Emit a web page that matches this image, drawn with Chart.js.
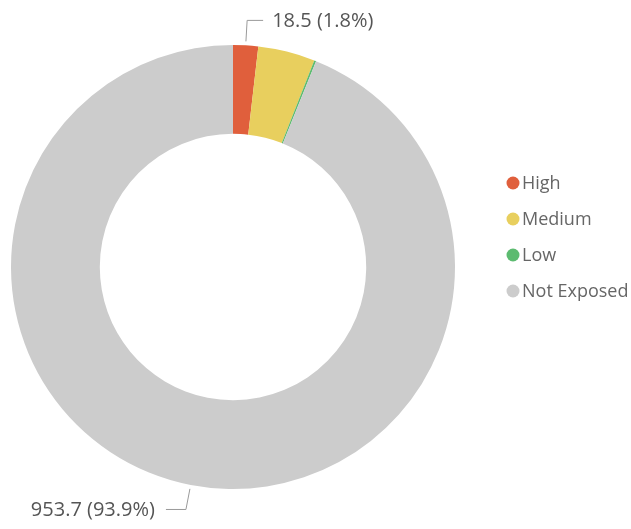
<!DOCTYPE html>
<html>
<head>
<meta charset="utf-8">
<script src="https://cdn.jsdelivr.net/npm/chart.js@4/dist/chart.umd.min.js"></script>
<style>
html,body{margin:0;padding:0;background:#fff;}
canvas{display:block;}
</style>
</head>
<body>
<canvas id="c" width="631" height="529"></canvas>
<script>
const categories = ["High", "Medium", "Low", "Not Exposed"];
const exposureValues = [18.5, 42.1, 1.4, 953.7];
const sliceColors = ["#E05F3C", "#E8CF5E", "#5CBB70", "#CCCCCC"];
const labelledSlices = [0, 3];

const FONT = "'Open Sans', 'Noto Sans', sans-serif";

const calloutPlugin = {
  id: 'callouts',
  afterDatasetsDraw(chart) {
    const ctx = chart.ctx;
    const meta = chart.getDatasetMeta(0);
    const data = chart.data.datasets[0].data;
    const total = data.reduce((a, b) => a + b, 0);
    ctx.save();
    labelledSlices.forEach(i => {
      const arc = meta.data[i];
      const mid = (arc.startAngle + arc.endAngle) / 2;
      const r0 = arc.outerRadius + 4;
      const r1 = arc.outerRadius + 25;
      const x0 = arc.x + Math.cos(mid) * r0, y0 = arc.y + Math.sin(mid) * r0;
      const x1 = arc.x + Math.cos(mid) * r1, y1 = arc.y + Math.sin(mid) * r1;
      const right = Math.cos(mid) >= 0;
      const x2 = x1 + (right ? 16 : -20);
      ctx.strokeStyle = '#9a9a9a';
      ctx.lineWidth = 1;
      ctx.beginPath();
      ctx.moveTo(x0, y0);
      ctx.lineTo(x1, y1);
      ctx.lineTo(x2, y1);
      ctx.stroke();
      const pct = data[i] / total * 100;
      const txt = data[i].toFixed(1) + ' (' + pct.toFixed(1) + '%)';
      ctx.font = '20px ' + FONT;
      ctx.fillStyle = '#555555';
      ctx.textBaseline = 'middle';
      ctx.textAlign = right ? 'left' : 'right';
      ctx.fillText(txt, x2 + (right ? 9 : -11), y1 + 1);
    });
    // legend
    const lx = 513, ly0 = 183, step = 36;
    chart.data.labels.forEach((lab, i) => {
      const y = ly0 + i * step;
      ctx.fillStyle = chart.data.datasets[0].backgroundColor[i];
      ctx.beginPath();
      ctx.arc(lx, y, 6.5, 0, Math.PI * 2);
      ctx.fill();
      ctx.fillStyle = '#666666';
      ctx.font = '18px ' + FONT;
      ctx.textAlign = 'left';
      ctx.textBaseline = 'middle';
      ctx.fillText(lab, lx + 9, y + 1);
    });
    ctx.restore();
  }
};

new Chart(document.getElementById('c'), {
  type: 'doughnut',
  data: {
    labels: categories,
    datasets: [{
      data: exposureValues,
      backgroundColor: sliceColors,
      borderWidth: 0,
      hoverOffset: 0
    }]
  },
  options: {
    responsive: false,
    animation: false,
    cutout: '60%',
    layout: { padding: { left: 11, top: 45, right: 176, bottom: 40 } },
    plugins: { legend: { display: false }, tooltip: { enabled: false } }
  },
  plugins: [calloutPlugin]
});
</script>
</body>
</html>
